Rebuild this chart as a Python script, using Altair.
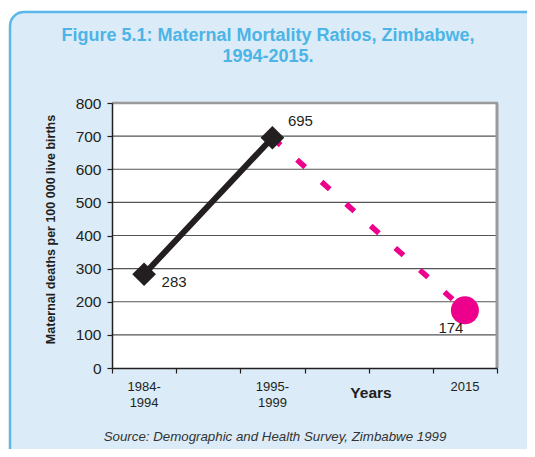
import altair as alt
import pandas as pd

# ---- data ----
categories = ["1984-1994", "1995-1999", "2015"]
cat_pos = [0.5, 2.5, 5.5]
mmr = [283, 695, 174]
cat_labels = ["1984-\n1994", "1995-\n1999", "2015"]
y_ticks = [0, 100, 200, 300, 400, 500, 600, 700, 800]
x_ticks = [0, 1, 2, 3, 4, 5, 6]
title_text = "Figure 5.1: Maternal Mortality Ratios, Zimbabwe,\n1994-2015."
source_text = "Source: Demographic and Health Survey, Zimbabwe 1999"
y_title = "Maternal deaths per 100 000 live births"
x_title = "Years"

W, H = 385, 265
PL, PT, PR, PB = 104, 95, 30, 81
FONT = "Liberation Sans, Arial, sans-serif"
INK = "#231f20"
PINK = "#ec008c"

pts = pd.DataFrame({"cat": categories, "pos": cat_pos, "mmr": mmr,
                    "label": [str(v) for v in mmr], "tick": cat_labels})
observed = pts.iloc[0:2]
projected = pts.iloc[1:3]
grid_df = pd.DataFrame({"v": y_ticks[1:]})
one = pd.DataFrame({"t": [title_text], "s": [source_text], "yt": [x_title]})

xs = alt.Scale(domain=[0, 6], nice=False, zero=False)
ys = alt.Scale(domain=[0, 800], nice=False)
x_axis = alt.Axis(values=x_ticks, labels=False, grid=False, title=None, zindex=1,
                  domainColor=INK, tickColor=INK, tickSize=5, domainWidth=1.5, tickWidth=1.2)
y_axis = alt.Axis(values=y_ticks, grid=False, title=y_title, zindex=1, domainColor=INK,
                  tickColor=INK, tickSize=5, domainWidth=1.5, tickWidth=1.2, labelFontSize=15.5,
                  labelColor=INK, labelFont=FONT, labelPadding=6, titleFont=FONT,
                  titleFontSize=12.5, titleFontWeight="bold", titleColor=INK, titleX=-62,
                  titleY=126, titleAngle=270, titleBaseline="middle", titleAlign="center")

X = alt.X("pos:Q", scale=xs, axis=x_axis)
Y = alt.Y("mmr:Q", scale=ys, axis=y_axis)

frame = alt.Chart(one).mark_rect(fill="#dbebf7", stroke="#5ab8e8", strokeWidth=2.5,
                                 cornerRadius=14).encode(
    x=alt.value(-102), x2=alt.value(W + PR + 20), y=alt.value(-91), y2=alt.value(H + PB + 20))
plotbg = alt.Chart(one).mark_rect(fill="white").encode(
    x=alt.value(0), x2=alt.value(W), y=alt.value(0), y2=alt.value(H))
grid = alt.Chart(grid_df).mark_rule(color="#555555", strokeWidth=1.2).encode(
    y=alt.Y("v:Q", scale=ys, axis=y_axis), x=alt.value(0), x2=alt.value(W))
border_top = alt.Chart(one).mark_rule(color="#9a9a9a", strokeWidth=2.5).encode(
    x=alt.value(0), x2=alt.value(W + 1), y=alt.value(0))
border_right = alt.Chart(one).mark_rule(color="#9a9a9a", strokeWidth=3).encode(
    x=alt.value(W), y=alt.value(0), y2=alt.value(H))

pink_line = alt.Chart(projected).mark_line(color=PINK, strokeWidth=5.5,
                                           strokeDash=[11, 22]).encode(x=X, y=Y)
black_line = alt.Chart(observed).mark_line(color=INK, strokeWidth=6).encode(x=X, y=Y)
diamonds = alt.Chart(observed).mark_point(shape="diamond", filled=True, size=560,
                                          color=INK, opacity=1).encode(x=X, y=Y)
circle = alt.Chart(pts.iloc[2:3]).mark_point(shape="circle", filled=True, size=784,
                                             color=PINK, opacity=1).encode(x=X, y=Y)

def lab(i, dx, dy):
    return alt.Chart(pts.iloc[i:i + 1]).mark_text(font=FONT, fontSize=15, color=INK,
                                                  dx=dx, dy=dy).encode(x=X, y=Y, text="label:N")

labels = [lab(0, 30, 8), lab(1, 28, -17), lab(2, -14, 18)]

ticklabels = alt.Chart(pts).mark_text(font=FONT, fontSize=13, color=INK, baseline="top",
                                      lineBreak="\n", lineHeight=16).encode(
    x=X, y=alt.value(H + 13), text="tick:N")
years = alt.Chart(one).mark_text(font=FONT, fontSize=15.5, fontWeight="bold", color=INK,
                                 baseline="middle").encode(
    x=alt.value(259), y=alt.value(290), text="yt:N")
source = alt.Chart(one).mark_text(font=FONT, fontSize=13.3, fontStyle="italic", color="#333333",
                                  baseline="middle").encode(
    x=alt.value(163), y=alt.value(334), text="s:N")
title = alt.Chart(one).mark_text(font=FONT, fontSize=18, fontWeight="bold", color="#4cb4e6",
                                 baseline="middle", lineBreak="\n", lineHeight=21).encode(
    x=alt.value(156), y=alt.value(-67), text="t:N")

chart = alt.layer(frame, plotbg, grid, border_top, border_right, pink_line, black_line,
                  diamonds, circle, *labels, ticklabels, years, source, title).properties(
    width=W, height=H, autosize="none",
    padding={"left": PL, "top": PT, "right": PR, "bottom": PB},
).configure_view(stroke=None).configure(background="white")

chart.save("out.html", embed_options={"renderer": "svg", "actions": False})
